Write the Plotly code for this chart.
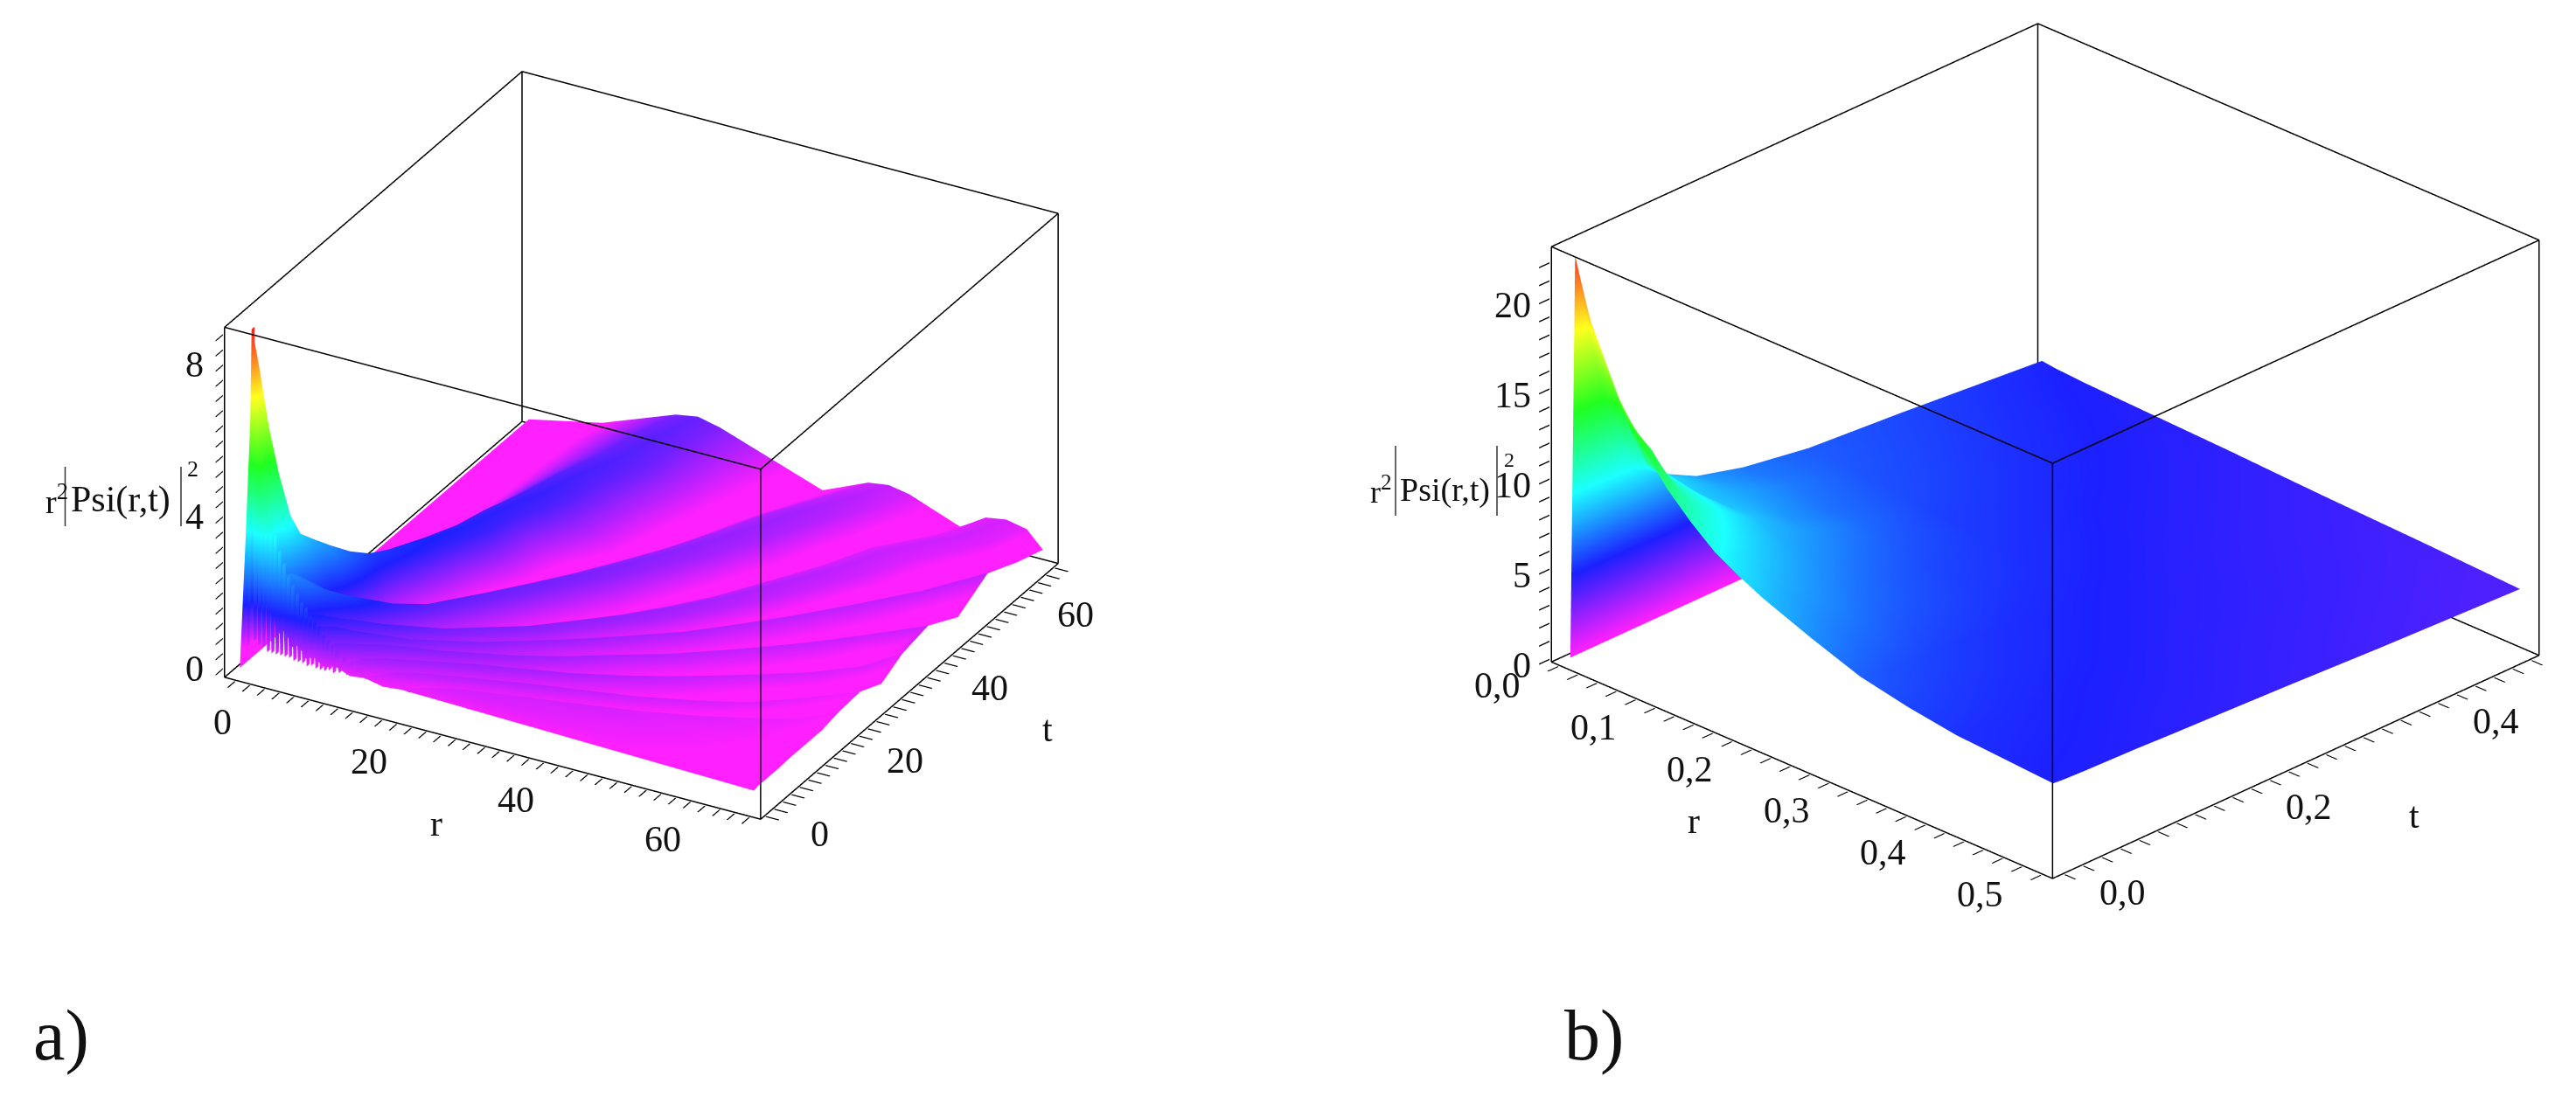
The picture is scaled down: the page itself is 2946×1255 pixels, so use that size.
import plotly.graph_objects as go

W, H = 2946, 1255
FONT = "Liberation Serif"
LINE = "#000000"

# ---------- panel a: values ----------
a_t = [0, 1, 2, 3, 4.5, 6, 8, 10, 13, 16, 20, 25, 30, 35, 41, 48, 55, 62, 68]
# r position of every ridge/valley knot, one row per t
a_r = [
 [0,.8,1.5,1.7,2,3,3.6,4,4.3,5,5.6,6,6.3,7,8,9,10,11.5,13,15,17,19.5,22,70],
 [0,1,1.8,2,2.3,3.5,4.6,5,5.4,6.2,7.1,7.5,7.9,8.7,10,11,12.5,14.2,16,18,20,22.5,25,70],
 [0,1.4,2.5,2.8,3.2,4.4,5.5,6,6.5,7.5,8.5,9,9.5,10.5,12,13.5,15,16.8,18.5,21,23,25.5,28,70],
 [0,1.8,3.2,3.6,4,5.5,7,7.5,8,9,10,10.5,11,12,14,15.5,17,19,21,23.5,26,29,32,70],
 [0,2.1,3.8,4.3,4.9,6.6,8.4,9,9.6,11,12.4,13,13.6,15,17,18.5,20,22.5,25,28,31,34.5,38,70],
 [0,2.4,4.2,4.8,5.5,7.9,10.3,11,11.8,13.5,15.2,16,16.8,18,20,22,24,26.5,29,32.5,36,40,44,70],
 [0,2.6,4.6,5.3,6.1,9,12,13,14,16,18,19,20,21,23.5,25.5,28,31,34,38,42,46,50,70],
 [0,3.2,5.7,6.5,7.4,10.7,14,15,16,18.5,21,22,23,24.5,27,29.5,32,35.5,39,43.5,48,52,56,70],
 [0,3.7,6.6,7.5,8.5,12.7,17,18,19,22,25,26,27,28.5,31,34,37,41,45,50,55,58.5,62,70],
 [0,4.1,7.3,8.3,9.4,14.1,18.8,20,21.2,25,28.7,30,31.2,32.5,35,38,41,45.5,50,55,60.5,63.5,67,70],
 [0,5,8.8,10,11.3,16.5,21.6,23,24.4,28.5,32.5,34,35.4,37,40,43.5,47,51.5,56,60,65,67.5,70,70],
 [0,6,10.5,12,13.5,19,25,26.5,28,33,37.3,39,40.6,42.5,46,49.5,53,58,63,66.5,70,70,70,70],
 [0,7,12.2,14,15.8,22,28.2,30,31.8,37,41.2,43,44.8,47,50.5,55,59,63.5,68,70,70,70,70,70],
 [0,7.5,13,15,17,24,31,33,35,40,44.5,46.5,48.5,51,55,60,64,67,70,70,70,70,70,70],
 [0,8.5,14.6,17,19.4,29,34.2,36.5,38.8,43.5,47.7,50,52.3,55,60,65,70,70,70,70,70,70,70,70],
 [0,9,15.8,18.5,21.2,31.5,37.4,40,42.6,47.5,51.4,54,56.6,60,65.5,69,70,70,70,70,70,70,70,70],
 [0,9.3,17.5,20.5,23.5,34,40.2,43,45.8,51,54.2,57,59.8,64,70,70,70,70,70,70,70,70,70,70],
 [0,9.5,18.5,21.5,24.5,37,43.7,46.5,49.3,55,59.7,62.5,65.3,68,70,70,70,70,70,70,70,70,70,70],
 [0,10,20,23,26,40,46.2,49,51.8,59,62.2,65,67.8,70,70,70,70,70,70,70,70,70,70,70],
]
a_z = [
 [0,3.5,7,9,6.5,2.5,2.3,2.5,2.2,1.2,1.4,1.5,1.3,.9,1,.7,.8,.6,.7,.55,.6,.5,.55,.35],
 [0,3,6.5,8,6,2.2,2.4,2.6,2.3,1.2,1.6,1.7,1.55,1,1.5,.8,1.2,.7,.95,.6,.8,.52,.65,.38],
 [0,2.4,5.3,6.3,5,1.9,2.4,2.6,2.3,1.1,1.6,1.7,1.55,.9,1.5,.75,1.2,.65,1,.6,.85,.52,.7,.38],
 [0,1.8,4.3,5,4.2,1.6,2.25,2.4,2.15,.9,1.5,1.6,1.45,.8,1.4,.7,1.2,.6,1,.55,.85,.5,.7,.38],
 [0,1.3,3.4,3.8,3.3,1.2,1.95,2.1,1.9,.75,1.4,1.5,1.35,.7,1.3,.6,1.15,.55,1,.5,.85,.45,.7,.38],
 [0,1.1,3,3.2,2.95,.9,1.8,1.9,1.75,.6,1.3,1.4,1.3,.6,1.2,.55,1.1,.5,1,.46,.85,.42,.7,.38],
 [0,1,2.75,2.9,2.7,.7,1.6,1.7,1.55,.52,1.2,1.3,1.2,.53,1.15,.5,1.05,.45,.95,.42,.8,.38,.65,.4],
 [0,.9,2.45,2.6,2.4,.6,1.4,1.5,1.38,.47,1.1,1.2,1.1,.48,1.1,.45,1,.42,.9,.4,.75,.36,.65,.4],
 [0,.75,2.08,2.2,2.05,.5,1.25,1.35,1.25,.42,1.05,1.15,1.05,.43,1.05,.4,.95,.38,.85,.36,.7,.33,.6,.4],
 [0,.7,1.8,1.9,1.78,.45,1.2,1.3,1.2,.38,1,1.1,1,.4,1,.38,.9,.35,.8,.33,.65,.3,.55,.4],
 [0,.65,1.65,1.75,1.63,.4,1.15,1.25,1.15,.35,.95,1.05,.95,.36,.95,.35,.85,.33,.75,.3,.6,.28,.5,.5],
 [0,.6,1.55,1.65,1.52,.35,1.1,1.2,1.1,.32,.9,1,.9,.33,.9,.32,.8,.3,.7,.29,.55,.55,.55,.55],
 [0,.55,1.5,1.6,1.48,.32,1.05,1.15,1.05,.3,.85,.95,.85,.3,.85,.3,.78,.28,.65,.28,.28,.28,.28,.28],
 [0,.55,1.45,1.55,1.42,.3,1,1.1,1,.27,.8,.9,.8,.27,.82,.27,.75,.27,.6,.6,.6,.6,.6,.6],
 [0,.5,1.4,1.5,1.37,.27,.95,1.05,.95,.25,.75,.85,.75,.25,.8,.25,.75,.75,.75,.75,.75,.75,.75,.75],
 [0,.5,1.32,1.42,1.3,.25,.9,1,.9,.22,.7,.8,.7,.22,.78,.22,.3,.3,.3,.3,.3,.3,.3,.3],
 [0,.5,1.26,1.36,1.24,.22,.85,.95,.85,.2,.65,.75,.65,.2,.78,.78,.78,.78,.78,.78,.78,.78,.78,.78],
 [0,.48,1.2,1.3,1.18,.2,.78,.86,.76,.18,.62,.72,.62,.18,.4,.4,.4,.4,.4,.4,.4,.4,.4,.4],
 [0,.42,1.15,1.25,1.12,.18,.7,.78,.68,.16,.6,.69,.58,.15,.15,.15,.15,.15,.15,.15,.15,.15,.15,.15],
]
# the rapid oscillation along the t = 0 edge
a_fence_t = [0, 0.7]
a_fence_r = [1,1.3,1.6,1.9,2.2,2.5,2.8,3.1,3.4,3.7,4,4.3,4.6,4.9,5.2,5.5,5.8,6.1,6.4,6.7,7,7.3,7.6,7.9,8.2,8.5,8.8,9.1,9.4,9.7,
             10,10.3,10.6,10.9,11.2,11.5,11.8,12.1,12.4,12.7,13,13.5,14,14.5,15,15.5,16,
             17,18,19,20,21,22,23,24,25,26,27,28,29,30,31,32,33,34,35,36,37,38,39,40,41,42,43,44,45,
             46,47,48,49,50,51,52,53,54,55,56,57,58,59,60,61,62,63,64,65,66,67,68,69,70]
a_fence_z = [.6,5,9,.8,7.2,.7,5.8,.7,4.9,.6,4.2,.6,3.7,.6,3.3,.6,3,.6,2.7,.6,2.5,.55,2.3,.55,2.1,.55,2,.5,1.8,.55,
             1.7,.5,1.6,.5,1.4,.5,1.3,.55,1.2,.5,1.1,.55,.95,.55,.9,.55,.8,
             .58,.62,.55,.6,.56,.61,.53,.58,.54,.6,.52,.57,.53,.58,.5,.56,.52,.55,.49,.54,
             .5,.53,.48,.54,.49,.51,.47,.53,.48,.5,.46,.51,.47,.49,.45,.5,.46,.48,.44,.49,
             .45,.46,.43,.47,.42,.45,.41,.44,.4,.43,.39,.41,.37,.36]
a_range_r = [-1.5, 71.5]
a_range_t = [-1, 69]
a_range_z = [-0.23, 8.99]
a_ticks_r = list(range(0, 71, 2))
a_ticks_t = list(range(0, 69, 2))
a_ticks_z = [0,.4,.8,1.2,1.6,2,2.4,2.8,3.2,3.6,4,4.4,4.8,5.2,5.6,6,6.4,6.8,7.2,7.6,8,8.4,8.8]
a_labels_r = {0: "0", 20: "20", 40: "40", 60: "60"}
a_labels_t = {0: "0", 20: "20", 40: "40", 60: "60"}
a_labels_z = {0: "0", 4: "4", 8: "8"}

# ---------- panel b ----------
b_r = [0, .005, .02, .05, .075, .1, .125, .15, .175, .2, .25, .3, .35, .4, .5]
b_t = [0, .01, .03, .06, .09, .13, .18, .25, .35, .5]
b_z = [
 [0,22.4,19.3,15.6,13.4,11.7,10.4,9.3,8.55,7.9,6.85,5.9,5.35,4.95,4.6],
 [0,19,17.4,14,13,11.2,10.1,9,8.35,7.7,6.7,5.8,5.3,4.9,4.55],
 [0,14,14,11.2,10.7,10.2,9.3,8.5,7.85,7.3,6.4,5.6,5.2,4.85,4.5],
 [0,9.2,10,9.6,9.3,9,8.4,7.8,7.3,6.9,6.1,5.4,5.05,4.8,4.45],
 [0,8.2,8.3,8,8,8,7.6,7.2,6.8,6.4,5.75,5.2,4.95,4.7,4.4],
 [0,7.1,7.2,7.3,7.2,7,6.95,6.6,6.2,5.9,5.45,5,4.8,4.6,4.3],
 [0,6.4,6.4,6.5,6.35,6.2,6.15,5.9,5.65,5.4,5.1,4.8,4.65,4.5,4.2],
 [0,5.8,5.8,5.7,5.6,5.5,5.35,5.2,5.1,5,4.8,4.6,4.45,4.3,4.05],
 [0,5.4,5.3,5.2,5.1,5,4.9,4.8,4.7,4.6,4.45,4.3,4.2,4.1,3.8],
 [0,4.7,4.6,4.5,4.45,4.4,4.35,4.3,4.25,4.2,4.07,3.95,3.85,3.75,3.5],
]
b_range_r = [-0.008, 0.511]
b_range_t = [-0.012, 0.509]
b_range_z = [-0.14, 22.9]
b_ticks_r = [round(i * .02, 2) for i in range(26)]
b_ticks_t = [round(i * .02, 2) for i in range(26)]
b_ticks_z = list(range(0, 23))
b_labels_r = {0: "0,0", .1: "0,1", .2: "0,2", .3: "0,3", .4: "0,4", .5: "0,5"}
b_labels_t = {0: "0,0", .2: "0,2", .4: "0,4"}
b_labels_z = {0: "0", 5: "5", 10: "10", 15: "15", 20: "20"}

hue_a = [[0, "#ff20ff"], [.05, "#ff20ff"], [.18, "#1c20ff"], [.4, "#1cffff"],
         [.6, "#20ff20"], [.8, "#ffff20"], [1, "#ff2020"]]
hue_b = [[0, "#ff20ff"], [.2, "#1c20ff"], [.4, "#1cffff"],
         [.6, "#20ff20"], [.8, "#ffff20"], [1, "#ff2020"]]
FLAT = dict(ambient=1, diffuse=0, specular=0, roughness=1, fresnel=0)


def frame(rx, ry, rz, scene):
    xs, ys, zs = [], [], []
    for a, b in [((0,0,0),(1,0,0)),((1,0,0),(1,1,0)),((1,1,0),(0,1,0)),((0,1,0),(0,0,0)),
                 ((0,0,1),(1,0,1)),((1,0,1),(1,1,1)),((1,1,1),(0,1,1)),((0,1,1),(0,0,1)),
                 ((0,0,0),(0,0,1)),((1,0,0),(1,0,1)),((1,1,0),(1,1,1)),((0,1,0),(0,1,1))]:
        for p in (a, b):
            xs.append(rx[p[0]]); ys.append(ry[p[1]]); zs.append(rz[p[2]])
        xs.append(None); ys.append(None); zs.append(None)
    return go.Scatter3d(x=xs, y=ys, z=zs, mode="lines", scene=scene, showlegend=False,
                        line=dict(color=LINE, width=3), hoverinfo="skip")


def axis(rng, ticks):
    pad = (rng[1] - rng[0]) * .002      # keeps the frame lines inside the clip box
    return dict(range=[rng[0] - pad, rng[1] + pad], tickmode="array", tickvals=ticks,
                showticklabels=False,
                title=dict(text=""), showgrid=False, zeroline=False, showbackground=False,
                showspikes=False, showline=False,
                ticks="outside", ticklen=17, tickwidth=3, tickcolor=LINE)


def tick_notes(lab_r, lab_t, lab_z, rr, rt, rz, shift_r, shift_t, shift_z, size, z_anchor):
    font = dict(family=FONT, size=size, color="#111")
    out = []
    for v, s in lab_r.items():
        out.append(dict(x=v, y=rt[0], z=rz[0], text=s, showarrow=False, font=font,
                        xshift=shift_r[0], yshift=-shift_r[1]))
    for v, s in lab_t.items():
        out.append(dict(x=rr[1], y=v, z=rz[0], text=s, showarrow=False, font=font,
                        xshift=shift_t[0], yshift=-shift_t[1]))
    for v, s in lab_z.items():
        out.append(dict(x=rr[0], y=rt[0], z=v, text=s, showarrow=False, font=font, xanchor=z_anchor,
                        xshift=shift_z[0], yshift=-shift_z[1]))
    return out


fig = go.Figure()
fig.add_trace(go.Surface(x=a_r, y=[[t] * len(a_r[0]) for t in a_t], z=a_z, scene="scene",
                         colorscale=hue_a, cmin=0, cmax=9, showscale=False, lighting=FLAT))
fig.add_trace(go.Surface(x=a_fence_r, y=a_fence_t, z=[a_fence_z, a_fence_z], scene="scene",
                         colorscale=hue_a, cmin=0, cmax=9, showscale=False, lighting=FLAT))
fig.add_trace(frame(a_range_r, a_range_t, a_range_z, "scene"))
fig.add_trace(go.Surface(x=b_r, y=b_t, z=b_z, scene="scene2",
                         colorscale=hue_b, cmin=0, cmax=22.8, showscale=False, lighting=FLAT))
fig.add_trace(frame(b_range_r, b_range_t, b_range_z, "scene2"))


def eye(d, v):
    return dict(x=d * v[0], y=d * v[1], z=d * v[2])


fig.update_layout(
    width=W, height=H, autosize=False, margin=dict(l=0, r=0, t=0, b=0),
    paper_bgcolor="white", showlegend=False,
    scene=dict(domain=dict(x=[0, .4926], y=[.2008, 1]),
               aspectmode="manual", aspectratio=dict(x=1.4038, y=1.4038, z=.9123),
               xaxis=axis(a_range_r, a_ticks_r),
               yaxis=axis(a_range_t, a_ticks_t),
               zaxis=axis(a_range_z, a_ticks_z),
               annotations=tick_notes(a_labels_r, a_labels_t, a_labels_z, a_range_r, a_range_t, a_range_z,
                                      (-15, 48), (63, 21), (-22, 0), 42, "right"),
               camera=dict(projection=dict(type="orthographic"),
                           eye=eye(3, (.4264, -.7684, .4773)),
                           center=dict(x=0, y=0, z=0), up=dict(x=0, y=0, z=1))),
    scene2=dict(domain=dict(x=[.5825, 1], y=[.1904, 1]),
                aspectmode="manual", aspectratio=dict(x=1.5787, y=1.5787, z=1.0486),
                xaxis=axis(b_range_r, b_ticks_r),
                yaxis=axis(b_range_t, b_ticks_t),
                zaxis=axis(b_range_z, b_ticks_z),
                annotations=tick_notes(b_labels_r, b_labels_t, b_labels_z, b_range_r, b_range_t, b_range_z,
                                       (-71, 23), (67, 22), (-21, 7), 42, "right"),
                camera=dict(projection=dict(type="orthographic"),
                            eye=eye(3, (.6236, -.6425, .4453)),
                            center=dict(x=0, y=0, z=0), up=dict(x=0, y=0, z=1))),
)


def note(px, py, text, size, anchor="center"):
    fig.add_annotation(xref="paper", yref="paper", x=px / W, y=1 - py / H, text=text, showarrow=False,
                       xanchor=anchor, yanchor="middle",
                       font=dict(family=FONT, size=size, color="#111"))


def bar(px, y0, y1):
    fig.add_shape(type="line", xref="paper", yref="paper", x0=px / W, x1=px / W, y0=1 - y0 / H, y1=1 - y1 / H,
                  line=dict(color="#333", width=1.5))


note(62, 1176, "a)", 82)
note(1815, 1176, "b)", 82)
note(491, 934, "r", 42)
note(1190, 826, "t", 42)
note(1929, 931, "r", 42)
note(2753, 925, "t", 42)
note(42, 563, "r<sup>2</sup>", 38, "left")
note(71, 563, "Psi(r,t)", 42, "left")
note(204, 528, "2", 26, "left")
bar(66.5, 526, 594)
bar(199, 526, 594)
note(1557, 552, "r<sup>2</sup>", 36, "left")
note(1591, 552, "Psi(r,t)", 38, "left")
note(1710, 518, "2", 24, "left")
bar(1588, 502, 582)
bar(1704, 502, 582)

fig.write_html("out.html")
